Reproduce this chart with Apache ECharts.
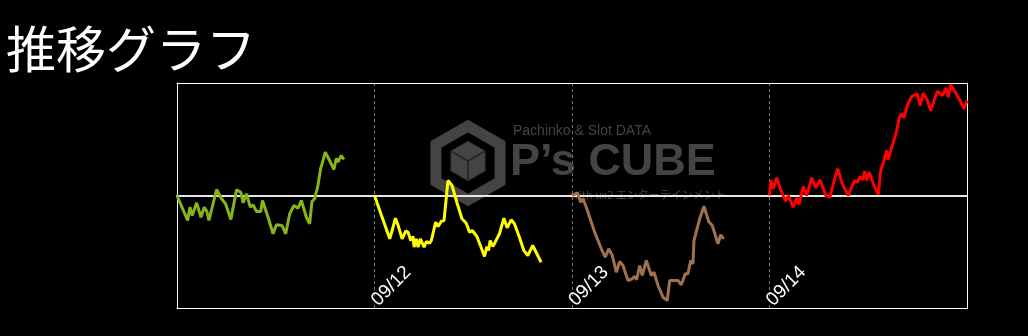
<!DOCTYPE html>
<html><head><meta charset="utf-8">
<script src="https://cdn.jsdelivr.net/npm/echarts@6/dist/echarts.min.js"></script>
<style>html,body{margin:0;padding:0;background:#000;}#c{width:1028px;height:336px;}</style>
</head><body><div id="c"></div>
<script>
const titleText = '推移グラフ';
const dayLabels = ['09/12', '09/13', '09/14'];
const dayLength = 8000;
const dayColors = ['#86b41a', '#ffff00', '#a0714f', '#ff0000'];
// [games within day, difference]
const day1 = [[0,0],[432,-667],[525,-312],[618,-533],[796,-195],[970,-579],[1103,-312],[1212,-427],[1293,-667],[1604,160],[1806,-88],[1967,-221],[2181,-640],[2412,152],[2585,88],[2679,-195],[2816,45],[2969,-312],[3083,-248],[3220,-427],[3394,-427],[3462,-133],[3689,-579],[3891,-1021],[4028,-781],[4254,-800],[4404,-1021],[4565,-488],[4739,-267],[4901,-339],[5038,-133],[5240,-579],[5373,-755],[5466,-160],[5575,-88],[5709,267],[5818,712],[6007,1155],[6181,933],[6355,693],[6452,995],[6517,888],[6654,1067],[6759,960]];
const day2 = [[0,0],[283,-533],[618,-1155],[715,-933],[848,-605],[957,-800],[1119,-1155],[1265,-952],[1361,-979],[1467,-1200],[1563,-1093],[1604,-1379],[1697,-1155],[1765,-1379],[1858,-1155],[2008,-1379],[2101,-1227],[2234,-1272],[2303,-1200],[2477,-712],[2573,-827],[2707,-685],[2816,-667],[2977,400],[3139,267],[3353,-221],[3543,-621],[3717,-739],[3850,-979],[3959,-933],[4149,-1093],[4323,-1395],[4456,-1627],[4553,-1360],[4618,-1467],[4686,-1200],[4795,-1360],[4888,-1245],[5062,-1021],[5240,-605],[5373,-861],[5535,-648],[5668,-755],[5870,-1112],[6048,-1467],[6209,-1600],[6411,-1333],[6747,-1779]];
const day3 = [[0,0],[215,72],[352,-179],[446,-88],[579,-312],[919,-979],[1187,-1421],[1349,-1645],[1486,-1421],[1632,-1600],[1794,-2045],[1932,-1760],[2066,-1867],[2268,-2267],[2442,-2221],[2539,-2152],[2620,-2248],[2742,-1867],[2847,-2133],[3009,-1733],[3212,-2133],[3321,-2045],[3483,-2400],[3686,-2712],[3754,-2755],[3860,-2800],[3957,-2267],[4131,-2267],[4293,-2267],[4427,-2382],[4589,-2088],[4698,-2088],[4807,-1733],[4900,-1821],[4941,-1200],[5172,-621],[5346,-285],[5536,-693],[5682,-800],[5913,-1288],[6022,-1048],[6144,-1155]];
const day4 = [[0,0],[61,400],[154,179],[292,472],[466,133],[656,-152],[761,0],[964,-312],[1102,-61],[1195,-240],[1369,240],[1507,0],[1709,472],[1871,205],[2045,419],[2276,0],[2450,-45],[2653,488],[2762,712],[2948,312],[3191,0],[3353,267],[3463,400],[3572,355],[3665,507],[3775,419],[3856,648],[3937,400],[4042,621],[4204,312],[4406,27],[4504,667],[4637,933],[4747,1200],[4811,952],[4949,1288],[5123,1645],[5257,2072],[5354,2179],[5447,2072],[5581,2400],[5759,2640],[5852,2667],[5986,2712],[6095,2400],[6229,2728],[6367,2579],[6529,2267],[6796,2782],[7015,2667],[7148,2872],[7241,2622],[7339,2960],[7582,2694],[7715,2533],[7784,2533],[7877,2312],[8000,2533]];
const days = [day1, day2, day3, day4];
const yMin = -3000, yMax = 3000;

const chart = echarts.init(document.getElementById('c'));
const wmColor = '#444';
const cx = 468, cy = 163;
function hex(cx, cy, r, sx) {
  const pts = [];
  for (let i = 0; i < 6; i++) {
    const a = Math.PI / 2 + i * Math.PI / 3;
    pts.push([cx + r * sx * Math.cos(a), cy - r * Math.sin(a)]);
  }
  return pts;
}
const hidden = { axisTick: { show: false }, axisLabel: { show: false }, splitLine: { show: false } };
const border = { show: true, onZero: false, lineStyle: { color: '#fff', width: 1 } };
chart.setOption({
  backgroundColor: '#000',
  animation: false,
  title: {
    text: titleText, left: 1, top: 19,
    textStyle: { color: '#fff', fontSize: 50, fontWeight: 'normal', fontFamily: 'Noto Sans CJK JP' }
  },
  graphic: [
    { type: 'polygon', z: 0, silent: true, shape: { points: hex(cx, cy, 37, 1) },
      style: { fill: null, stroke: wmColor, lineWidth: 11, lineJoin: 'miter' } },
    { type: 'polygon', z: 0, silent: true, shape: { points: hex(cx, cy - 2, 20, 1) },
      style: { fill: wmColor, stroke: '#222', lineWidth: 1 } },
    { type: 'polyline', z: 0, silent: true, shape: { points: [[cx - 17.3, cy - 12], [cx, cy - 2], [cx + 17.3, cy - 12]] },
      style: { stroke: '#222', lineWidth: 1.5 } },
    { type: 'line', z: 0, silent: true, shape: { x1: cx, y1: cy - 2, x2: cx, y2: cy + 18 },
      style: { stroke: '#222', lineWidth: 1.5 } },
    { type: 'text', z: 0, silent: true, left: 513, top: 124,
      style: { text: 'Pachinko & Slot DATA', fill: wmColor, font: '14px "Liberation Sans Narrow", "Liberation Sans", sans-serif' } },
    { type: 'text', z: 0, silent: true, left: 510, top: 140,
      style: { text: 'P’s CUBE', fill: wmColor, font: 'bold 45px "Liberation Sans", sans-serif' } },
    { type: 'text', z: 0, silent: true, left: 570, top: 189,
      style: { text: 'with ux2 エンターテインメント', fill: wmColor, font: '11px "Noto Sans CJK JP", sans-serif' } }
  ],
  grid: { left: 177, right: 61, top: 83, bottom: 28, show: false },
  xAxis: [
    { type: 'value', min: 0, max: dayLength * 4, interval: dayLength,
      axisLine: { onZero: true, lineStyle: { color: '#e6e6e6', width: 2 } },
      axisTick: { show: false }, axisLabel: { show: false },
      splitLine: { show: true, lineStyle: { color: '#777', type: [3, 3], width: 1 } } },
    { type: 'value', min: 0, max: dayLength * 4, interval: dayLength, position: 'bottom',
      axisLine: border, axisTick: { show: false }, splitLine: { show: false },
      axisLabel: { show: true, inside: true, rotate: 45, margin: 5,
        formatter: v => { const i = Math.round(v / dayLength) - 1; return (i >= 0 && i < dayLabels.length) ? dayLabels[i] : ''; },
        color: '#fff', fontSize: 19, fontFamily: 'Liberation Sans',
        textShadowColor: '#2a64ff', textShadowOffsetX: -1, textShadowOffsetY: 1, textShadowBlur: 0 } },
    Object.assign({ type: 'value', min: 0, max: dayLength * 4, position: 'top', axisLine: border }, hidden)
  ],
  yAxis: [
    Object.assign({ type: 'value', min: yMin, max: yMax, position: 'left', axisLine: border }, hidden),
    Object.assign({ type: 'value', min: yMin, max: yMax, position: 'right', axisLine: border }, hidden)
  ],
  series: days.map((d, i) => ({
    type: 'line', xAxisIndex: 0, yAxisIndex: 0, z: 3, showSymbol: false, silent: true,
    data: d.map(p => [p[0] + i * dayLength, p[1]]),
    lineStyle: { color: dayColors[i], width: 3 }
  }))
});
</script></body></html>
